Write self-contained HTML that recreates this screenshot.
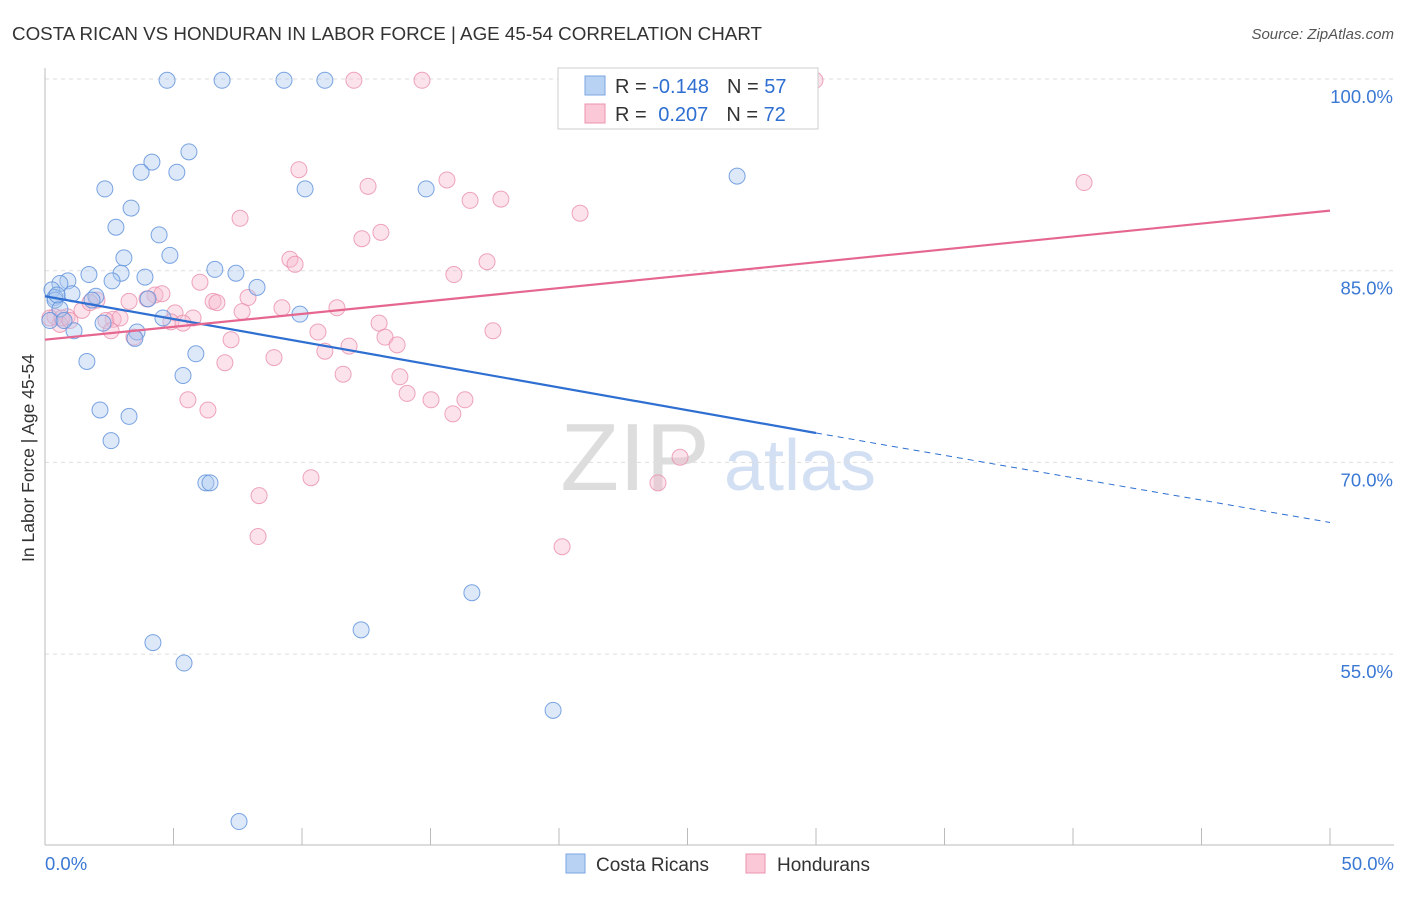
<!DOCTYPE html>
<html><head><meta charset="utf-8"><style>
body{margin:0;background:#fff;font-family:"Liberation Sans",sans-serif;}
svg text{font-family:"Liberation Sans",sans-serif;}
</style></head><body>
<svg id="chart" width="1406" height="892" xmlns="http://www.w3.org/2000/svg">
<text x="12" y="40" font-size="18.8" fill="#333">COSTA RICAN VS HONDURAN IN LABOR FORCE | AGE 45-54 CORRELATION CHART</text>
<text x="1394" y="39" font-size="15" fill="#555" font-style="italic" text-anchor="end">Source: ZipAtlas.com</text>
<text x="34" y="458" font-size="17.5" fill="#333" text-anchor="middle" transform="rotate(-90 34 458)">In Labor Force | Age 45-54</text>
<g><text x="635" y="490" font-size="96" fill="#ddd" font-family="Liberation Serif" text-anchor="middle">ZIP</text><text x="800" y="490" font-size="72" fill="#d3e0f3" text-anchor="middle">atlas</text></g>
<g id="grid"></g><g id="axes"></g><g id="pts"></g><g id="lines"></g>
<g>
<rect x="558" y="68" width="260" height="61" fill="#fff" stroke="#ccc"/>
<rect x="585" y="76" width="20" height="19" fill="#b8d2f3" stroke="#7aa6e0"/>
<rect x="585" y="104" width="20" height="19" fill="#fbc8d8" stroke="#eb93ae"/>
<text x="615" y="93" font-size="20" fill="#333">R = <tspan fill="#2e6fd1">-0.148</tspan><tspan dx="18">N = </tspan><tspan fill="#2e6fd1">57</tspan></text>
<text x="615" y="121" font-size="20" fill="#333">R = <tspan fill="#2e6fd1" dx="6">0.207</tspan><tspan dx="18">N = </tspan><tspan fill="#2e6fd1">72</tspan></text>
</g>
<g>
<rect x="566" y="854" width="19" height="19" fill="#b8d2f3" stroke="#7aa6e0"/>
<text x="596" y="871" font-size="19" fill="#333">Costa Ricans</text>
<rect x="746" y="854" width="19" height="19" fill="#fbc8d8" stroke="#eb93ae"/>
<text x="777" y="871" font-size="19" fill="#333">Hondurans</text>
</g>
</svg>
<script>
const yTicks=[100,85,70,55];
const yTickLabels=["100.0%","85.0%","70.0%","55.0%"];
const xTickLabels=["0.0%","50.0%"];
const blueX=[4.75,6.89,9.30,10.89,4.16,5.60,3.74,5.13,2.33,10.12,14.83,26.93,3.35,2.76,4.44,3.07,4.86,1.71,2.96,3.89,6.61,7.43,8.25,2.61,0.89,0.58,0.27,0.39,1.05,1.98,1.83,4.01,9.92,4.59,2.26,1.13,3.58,3.50,5.87,1.63,5.37,2.14,3.27,2.57,6.26,6.42,16.61,12.30,4.20,5.41,19.77,7.55,0.39,0.58,0.19,0.74,0.47];
const blueY=[99.9,99.9,99.9,99.9,93.5,94.3,92.7,92.7,91.4,91.4,91.4,92.4,89.9,88.4,87.8,86.0,86.2,84.7,84.8,84.5,85.1,84.8,83.7,84.2,84.2,84.0,83.5,82.9,83.2,83.0,82.7,82.8,81.6,81.3,80.9,80.3,80.2,79.7,78.5,77.9,76.8,74.1,73.6,71.7,68.4,68.4,59.8,56.9,55.9,54.3,50.6,41.9,82.7,82.0,81.1,81.1,83.1];
const pinkX=[12.02,14.67,29.96,9.88,15.64,12.57,16.54,17.74,20.82,40.43,7.59,13.07,12.33,9.53,9.73,17.20,15.91,6.03,7.90,6.54,6.69,3.27,4.28,4.55,3.97,9.22,11.36,7.67,5.06,5.76,4.90,5.37,2.65,2.02,1.44,0.86,0.39,0.58,2.37,3.46,2.57,10.62,13.00,17.43,13.23,7.24,10.89,11.83,13.70,8.91,7.00,11.60,13.81,14.09,5.56,15.02,16.34,6.34,15.87,10.35,24.71,23.85,8.33,8.29,20.12,0.19,0.66,0.97,1.75,2.92];
const pinkY=[99.9,99.9,99.9,92.9,92.1,91.6,90.5,90.6,89.5,91.9,89.1,88.0,87.5,85.9,85.5,85.7,84.7,84.1,82.9,82.6,82.5,82.6,83.1,83.2,82.8,82.1,82.1,81.8,81.7,81.3,81.0,80.9,81.2,82.7,81.9,81.4,81.4,80.8,81.1,79.8,80.3,80.2,80.9,80.3,79.8,79.6,78.7,79.1,79.2,78.2,77.8,76.9,76.7,75.4,74.9,74.9,74.9,74.1,73.8,68.8,70.4,68.4,67.4,64.2,63.4,81.3,81.3,81.1,82.5,81.3];
const trendBlue=[0,83.0,30,72.3,50,65.3];
const trendPink=[0,79.6,50,89.7];
const NS="http://www.w3.org/2000/svg";
const X=v=>45+v/50*1285, Y=v=>79+(100-v)*12.78;
function mk(tag,attrs,parent){const e=document.createElementNS(NS,tag);for(const k in attrs)e.setAttribute(k,attrs[k]);document.getElementById(parent).appendChild(e);return e;}
yTicks.forEach((t,i)=>{
 const g=mk('line',{x1:45,x2:1394,y1:Y(t),y2:Y(t),stroke:'#ddd','stroke-dasharray':'4,4'},'grid');
 
 
 const l=mk('text',{x:1393,y:Y(t)+24,'font-size':18.5,fill:'#3a78d4','text-anchor':'end'},'axes');
 l.textContent=yTickLabels[i];
 
 
});
const ax=mk('line',{x1:45,x2:45,y1:68,y2:845,stroke:'#bbb'},'axes');


const bx=mk('line',{x1:45,x2:1394,y1:845,y2:845,stroke:'#bbb'},'axes');


for(let i=0;i<=10;i++){const t=mk('line',{x1:X(i*5),x2:X(i*5),y1:828,y2:845,stroke:'#bbb'},'axes');
 
 }
[[0,'start',45],[50,'end',1394]].forEach((a,i)=>{const l=mk('text',{x:a[2],y:870,'font-size':18.5,fill:'#3a78d4','text-anchor':a[1]},'axes');l.textContent=xTickLabels[i];
 
 });
function pts(xs,ys,fill,stroke,name){xs.forEach((x,i)=>{const c=mk('circle',{cx:X(x),cy:Y(ys[i]),r:8,fill:fill,'fill-opacity':0.4,stroke:stroke,'stroke-width':1,'stroke-opacity':0.8},'pts');
 
 });}
pts(pinkX,pinkY,'#f8b8cc','#ea8fab','point-honduran');
pts(blueX,blueY,'#a9c8f0','#5b8fdb','point-costa-rican');
const b1=mk('line',{x1:X(trendBlue[0]),y1:Y(trendBlue[1]),x2:X(trendBlue[2]),y2:Y(trendBlue[3]),stroke:'#2e6fd1','stroke-width':2.2},'lines');


const b2=mk('line',{x1:X(trendBlue[2]),y1:Y(trendBlue[3]),x2:X(trendBlue[4]),y2:Y(trendBlue[5]),stroke:'#2e6fd1','stroke-width':1,'stroke-dasharray':'6,5'},'lines');


const p1=mk('line',{x1:X(trendPink[0]),y1:Y(trendPink[1]),x2:X(trendPink[2]),y2:Y(trendPink[3]),stroke:'#e5678f','stroke-width':2.2},'lines');


</script>
</body></html>
